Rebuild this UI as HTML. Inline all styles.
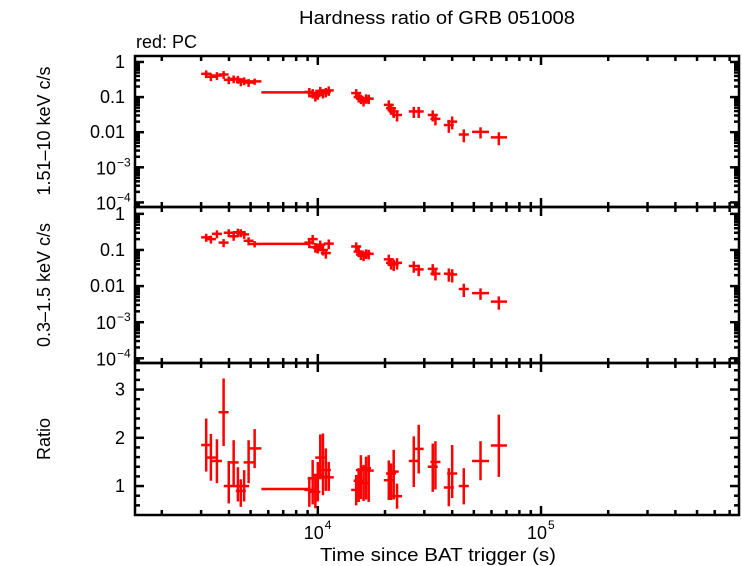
<!DOCTYPE html>
<html><head><meta charset="utf-8"><style>
body{margin:0;background:#fff}
svg{display:block;font-family:"Liberation Sans",sans-serif}
</style></head><body>
<svg id="chart" width="742" height="566" viewBox="0 0 742 566" xmlns="http://www.w3.org/2000/svg">
<rect width="742" height="566" fill="#fff"/>
<text x="437" y="24" font-size="18" text-anchor="middle" textLength="276" lengthAdjust="spacingAndGlyphs">Hardness ratio of GRB 051008</text>
<text x="136" y="48" font-size="18">red: PC</text>
<text transform="translate(50,131) rotate(-90)" font-size="18" text-anchor="middle">1.51–10 keV c/s</text>
<text transform="translate(50,285) rotate(-90)" font-size="18" text-anchor="middle">0.3–1.5 keV c/s</text>
<text transform="translate(50,439) rotate(-90)" font-size="18" text-anchor="middle">Ratio</text>
<text x="438" y="561" font-size="18" text-anchor="middle" textLength="236" lengthAdjust="spacingAndGlyphs">Time since BAT trigger (s)</text>
<g id="layer"></g>
</svg>
<script>
const times=[3162,3319,3532,3784,3990,4198,4385,4519,4677,4898,5212,7178,9162,9484,9750,10000,10257,10544,10864,11194,14859,15241,15596,16032,16444,16904,20797,21281,21878,22646,26915,28314,32734,33651,38637,39994,45082,53580,64714];
const timeLo=[3080,3230,3440,3680,3880,4080,4270,4400,4550,4770,4860,5585,8910,9230,9490,9730,9980,10260,10570,10890,14460,14830,15180,15600,16000,16450,20240,20710,21290,22040,26190,27550,31860,32750,37360,38920,43560,49100,59600];
const timeHi=[3250,3410,3630,3890,4100,4310,4500,4640,4800,5030,5590,9268,9420,9750,10020,10280,10540,10830,11160,11500,15270,15660,16020,16480,16900,17370,21370,21870,22480,23270,27650,29100,33640,34580,39700,41100,46700,58500,70400];
const hardRate=[0.46,0.38,0.41,0.44,0.31,0.33,0.32,0.27,0.29,0.26,0.28,0.136,0.14,0.13,0.107,0.12,0.15,0.13,0.14,0.155,0.13,0.10,0.09,0.077,0.092,0.09,0.06,0.048,0.039,0.031,0.039,0.039,0.031,0.024,0.016,0.02,0.0086,0.0102,0.0071];
const softRate=[0.224,0.20,0.28,0.16,0.30,0.24,0.31,0.30,0.27,0.18,0.147,0.147,0.16,0.20,0.12,0.114,0.14,0.10,0.082,0.15,0.125,0.09,0.075,0.07,0.08,0.078,0.055,0.044,0.04,0.044,0.036,0.029,0.030,0.022,0.022,0.021,0.0083,0.0064,0.0037];
const rateErr=[0.25,0.25,0.25,0.25,0.25,0.25,0.25,0.25,0.25,0.25,0.2,0,0.3,0.3,0.3,0.3,0.3,0.3,0.3,0.3,0.3,0.3,0.3,0.3,0.3,0.3,0.35,0.35,0.35,0.35,0.35,0.35,0.35,0.35,0.4,0.4,0.4,0.35,0.4];
const ratio=[1.85,1.59,1.52,2.53,1.0,1.49,1.0,0.90,1.0,1.49,1.78,0.94,0.92,1.16,0.88,1.23,1.59,1.19,1.33,1.18,0.92,1.11,1.33,1.06,1.37,1.32,1.12,1.26,1.30,0.79,1.52,1.77,1.40,1.50,0.97,1.26,1.0,1.52,1.84];
const ratioHi=[2.40,2.08,1.97,3.23,1.52,1.95,1.39,1.14,1.33,1.95,2.18,0.94,1.19,1.54,1.23,1.50,2.07,2.09,1.78,1.50,1.23,1.37,1.64,1.44,1.61,1.64,1.53,1.47,1.75,1.05,2.03,2.27,1.88,1.93,1.37,1.85,1.37,1.93,2.48];
const ratioLo=[1.30,1.11,1.06,1.83,0.64,1.02,0.68,0.57,0.68,1.06,1.37,0.94,0.57,0.62,0.54,0.68,1.14,0.81,0.90,0.90,0.60,0.67,0.73,0.69,0.72,0.67,0.71,0.71,0.72,0.53,0.98,1.26,0.88,0.93,0.58,0.75,0.62,1.12,1.19];
const xTickLabels=["10","10"];

const NS="http://www.w3.org/2000/svg";
const L=document.getElementById('layer');
const X0=135,X1=739;
const xLogMin=3.181,xLogMax=5.887;
function xs(t){return X0+(Math.log10(t)-xLogMin)/(xLogMax-xLogMin)*(X1-X0);}
const panels=[
 {top:56,bot:207,lmin:-4.13,lmax:0.17,log:true,name:'hard'},
 {top:207,bot:363,lmin:-4.13,lmax:0.19,log:true,name:'soft'},
 {top:363,bot:515,lmin:0.4,lmax:3.55,log:false,name:'ratio'}];
function ys(p,v){const u=p.log?Math.log10(v):v;return p.bot-(u-p.lmin)/(p.lmax-p.lmin)*(p.bot-p.top);}
function mk(tag,attrs,name,parent){const e=document.createElementNS(NS,tag);for(const k in attrs)e.setAttribute(k,attrs[k]);


(parent||L).appendChild(e);return e;}
function line(x1,y1,x2,y2,c,w,name,g){return mk('line',{x1,y1,x2,y2,stroke:c,'stroke-width':w},name,g);}
function txt(x,y,s,anchor,name){const t=mk('text',{x,y,'font-size':18,'text-anchor':anchor},name);t.textContent=s;return t;}

panels.forEach(p=>{
 const g=mk('g',{},p.name+'-axes');
 for(let d=3;d<=5;d++)for(let m=1;m<=9;m++){const t=m*Math.pow(10,d);const x=xs(t);if(x<X0+1||x>X1-1)continue;
  const len=m===1?9:5;
  line(x,p.top,x,p.top+len,'#000',2.5,'x-tick',g);line(x,p.bot,x,p.bot-len,'#000',2.5,'x-tick',g);}
 if(p.log){
  for(let d=-5;d<=1;d++)for(let m=1;m<=9;m++){const v=m*Math.pow(10,d);const y=ys(p,v);if(y<p.top+1||y>p.bot-1)continue;
   const len=m===1?9:5;
   line(X0,y,X0+len,y,'#000',2.5,'y-tick',g);line(X1,y,X1-len,y,'#000',2.5,'y-tick',g);}
  const labs=[[0,'1'],[-1,'0.1'],[-2,'0.01']];
  labs.forEach(([e,s])=>txt(125,ys(p,Math.pow(10,e))+6,s,'end','y-tick-label'));
  [[-3],[-4]].forEach(([e])=>{txt(116,ys(p,Math.pow(10,e))+7,'10','end','y-tick-label');
   const s=mk('text',{x:117,y:ys(p,Math.pow(10,e))-1,'font-size':12},'y-tick-exponent');s.textContent='−'+(-e);});
 } else {
  for(let v=0.6;v<=3.45;v+=0.2){const y=ys(p,v);const major=Math.abs(v-Math.round(v))<0.01;const len=major?9:5;
   line(X0,y,X0+len,y,'#000',2.5,'y-tick',g);line(X1,y,X1-len,y,'#000',2.5,'y-tick',g);}
  [1,2,3].forEach(v=>txt(125,ys(p,v)+6,String(v),'end','y-tick-label'));
 }
 mk('rect',{x:X0,y:p.top,width:X1-X0,height:p.bot-p.top,fill:'none',stroke:'#000','stroke-width':2.5},p.name+'-frame',g);
});
[4,5].forEach((e,i)=>{const x=xs(Math.pow(10,e));txt(x-4,539,xTickLabels[i],'middle','x-tick-label');
 const s=mk('text',{x:x+7,y:529,'font-size':12},'x-tick-exponent');s.textContent=String(e);});

function series(p,vals,lo,hi,name){
 const g=mk('g',{},name+'-series');
 vals.forEach((v,i)=>{
  const y=ys(p,v),x=xs(times[i]);
  const x1=Math.min(xs(timeLo[i]),x-5),x2=Math.max(xs(timeHi[i]),x+5);
  line(x1,y,x2,y,'#f00',2.5,name+'-xerr',g);
  line(x,ys(p,lo[i]),x,ys(p,hi[i]),'#f00',2.5,name+'-yerr',g);
 });
}
const hLo=hardRate.map((v,i)=>v*(1-rateErr[i])),hHi=hardRate.map((v,i)=>v*(1+rateErr[i]));
const sLo=softRate.map((v,i)=>v*(1-rateErr[i])),sHi=softRate.map((v,i)=>v*(1+rateErr[i]));
series(panels[0],hardRate,hLo,hHi,'hard');
series(panels[1],softRate,sLo,sHi,'soft');
series(panels[2],ratio,ratioLo,ratioHi,'ratio');
</script>
</body></html>
